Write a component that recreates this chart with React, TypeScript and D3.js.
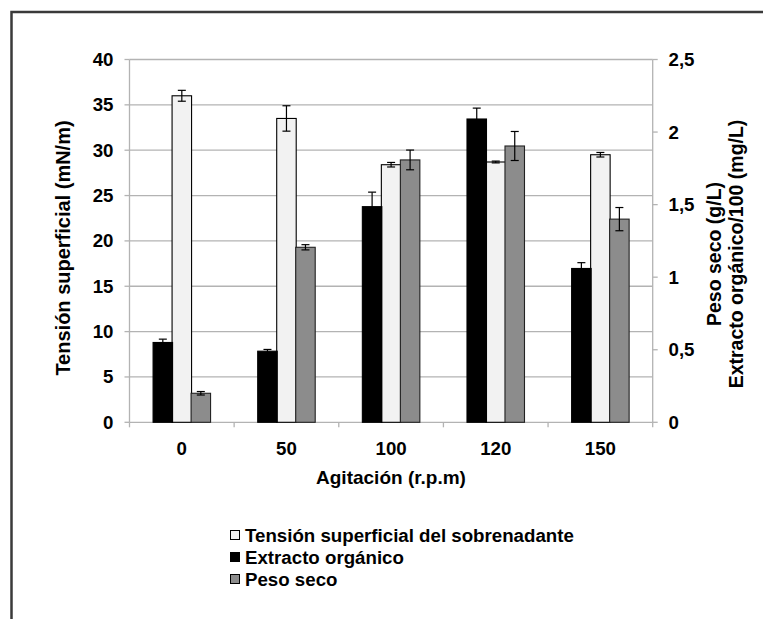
import React from "react";
import * as d3 from "d3";

const categories = ["0", "50", "100", "120", "150"];
const tension = [36.0, 33.5, 28.4, 28.7, 29.5];
const tensionErr = [0.6, 1.4, 0.25, 0.1, 0.25];
const extracto = [0.55, 0.49, 1.486, 2.09, 1.06];
const extractoErr = [0.023, 0.012, 0.1, 0.075, 0.04];
const peso = [0.2, 1.206, 1.808, 1.904, 1.4];
const pesoErr = [0.012, 0.018, 0.068, 0.1, 0.08];
const leftTicks = [0, 5, 10, 15, 20, 25, 30, 35, 40];
const rightTicks = [0, 0.5, 1, 1.5, 2, 2.5];
const legendItems = [
  { label: "Tensión superficial del sobrenadante", fill: "#f2f2f2" },
  { label: "Extracto orgánico", fill: "#000000" },
  { label: "Peso seco", fill: "#8c8c8c" },
];

const W = 763;
const H = 619;
const plotL = 129.5;
const plotR = 652.7;
const plotT = 59.5;
const plotB = 422.3;
const FONT = "'Liberation Sans', Arial, sans-serif";
const TICK_FS = 18.7;
const TITLE_FS = 19.5;

export default function App() {
  const x = d3.scaleBand<string>().domain(categories).range([plotL, plotR]).padding(0);
  const yL = d3.scaleLinear().domain([0, 40]).range([plotB, plotT]);
  const yR = d3.scaleLinear().domain([0, 2.5]).range([plotB, plotT]);
  const bw = 19.5;
  const cx = (c: string) => (x(c) as number) + x.bandwidth() / 2;
  const fmtR = (v: number) => String(v).replace(".", ",");
  const gridColor = "#b3b3b3";

  const errBar = (xc: number, y0: number, y1: number, key: string) => (
    <g key={key} stroke="#000" strokeWidth={1.2}>
      <line x1={xc} x2={xc} y1={y0} y2={y1} />
      <line x1={xc - 4} x2={xc + 4} y1={y0} y2={y0} />
      <line x1={xc - 4} x2={xc + 4} y1={y1} y2={y1} />
    </g>
  );

  return (
    <svg
      width={W}
      height={H}
      style={{ position: "absolute", left: 0, top: 0, background: "#fff" }}
      fontFamily={FONT}
    >
      <rect x={0} y={0} width={W} height={H} fill="#fff" />
      {/* frame */}
      <rect x={11.5} y={12} width={W + 20} height={H + 20} fill="none" stroke="#3a3a3a" strokeWidth={2.5} />

      {/* gridlines */}
      {leftTicks.filter((t) => t > 0).map((t) => (
        <line key={"g" + t} x1={plotL} x2={plotR} y1={yL(t)} y2={yL(t)} stroke={gridColor} strokeWidth={1.3} />
      ))}
      {/* axes */}
      <line x1={plotL} x2={plotL} y1={plotT} y2={plotB} stroke={gridColor} strokeWidth={1.3} />
      <line x1={plotR} x2={plotR} y1={plotT} y2={plotB} stroke={gridColor} strokeWidth={1.3} />
      <line x1={plotL} x2={plotR} y1={plotB} y2={plotB} stroke={gridColor} strokeWidth={1.3} />
      {leftTicks.map((t) => (
        <line key={"lt" + t} x1={plotL - 5} x2={plotL} y1={yL(t)} y2={yL(t)} stroke={gridColor} strokeWidth={1.3} />
      ))}
      {rightTicks.map((t) => (
        <line key={"rt" + t} x1={plotR} x2={plotR + 5} y1={yR(t)} y2={yR(t)} stroke={gridColor} strokeWidth={1.3} />
      ))}
      {categories.map((c) => (
        <line key={"xt" + c} x1={x(c) as number} x2={x(c) as number} y1={plotB} y2={plotB + 5} stroke={gridColor} strokeWidth={1.3} />
      ))}
      <line x1={plotR} x2={plotR} y1={plotB} y2={plotB + 5} stroke={gridColor} strokeWidth={1.3} />

      {/* Tension bars (primary) */}
      {categories.map((c, i) => (
        <rect key={"tb" + c} x={cx(c) - bw / 2} y={yL(tension[i])} width={bw} height={plotB - yL(tension[i])} fill="#f2f2f2" stroke="#000" strokeWidth={1.1} />
      ))}
      {categories.map((c, i) => errBar(cx(c), yL(tension[i] + tensionErr[i]), yL(tension[i] - tensionErr[i]), "te" + c))}

      {/* Extracto bars (secondary) */}
      {categories.map((c, i) => (
        <rect key={"eb" + c} x={cx(c) - 19 - bw / 2} y={yR(extracto[i])} width={bw} height={plotB - yR(extracto[i])} fill="#000" stroke="#000" strokeWidth={1.1} />
      ))}
      {categories.map((c, i) => errBar(cx(c) - 19, yR(extracto[i] + extractoErr[i]), yR(extracto[i] - extractoErr[i]), "ee" + c))}

      {/* Peso bars (secondary) */}
      {categories.map((c, i) => (
        <rect key={"pb" + c} x={cx(c) + 19 - bw / 2} y={yR(peso[i])} width={bw} height={plotB - yR(peso[i])} fill="#8c8c8c" stroke="#222" strokeWidth={1.1} />
      ))}
      {categories.map((c, i) => errBar(cx(c) + 19, yR(peso[i] + pesoErr[i]), yR(peso[i] - pesoErr[i]), "pe" + c))}

      {/* Left tick labels */}
      {leftTicks.map((t) => (
        <text key={"ll" + t} x={113.5} y={yL(t) + 6.5} textAnchor="end" fontSize={TICK_FS} fontWeight="bold" fill="#000">
          {t}
        </text>
      ))}
      {/* Right tick labels */}
      {rightTicks.map((t) => (
        <text key={"rl" + t} x={668.5} y={yR(t) + 6.5} textAnchor="start" fontSize={TICK_FS} fontWeight="bold" fill="#000">
          {fmtR(t)}
        </text>
      ))}
      {/* X tick labels */}
      {categories.map((c) => (
        <text key={"xl" + c} x={cx(c)} y={455} textAnchor="middle" fontSize={TICK_FS} fontWeight="bold" fill="#000">
          {c}
        </text>
      ))}
      <text x={391} y={483.5} textAnchor="middle" fontSize={19} fontWeight="bold" fill="#000">
        Agitación (r.p.m)
      </text>

      {/* Left axis title */}
      <text transform="translate(69.5,248) rotate(-90)" textAnchor="middle" fontSize={20} fontWeight="bold" fill="#000">
        Tensión superficial (mN/m)
      </text>
      {/* Right axis title */}
      <text transform="translate(721,254) rotate(-90)" textAnchor="middle" fontSize={TITLE_FS} fontWeight="bold" fill="#000">
        Peso seco (g/L)
      </text>
      <text transform="translate(742.5,254) rotate(-90)" textAnchor="middle" fontSize={TITLE_FS} fontWeight="bold" fill="#000">
        Extracto orgánico/100 (mg/L)
      </text>

      {/* Legend */}
      {legendItems.map((it, i) => (
        <g key={"lg" + i}>
          <rect x={230.5} y={530.5 + i * 22} width={9} height={9} fill={it.fill} stroke="#000" strokeWidth={1} />
          <text x={245} y={541.5 + i * 22} fontSize={TICK_FS} fontWeight="bold" fill="#000">
            {it.label}
          </text>
        </g>
      ))}
    </svg>
  );
}
